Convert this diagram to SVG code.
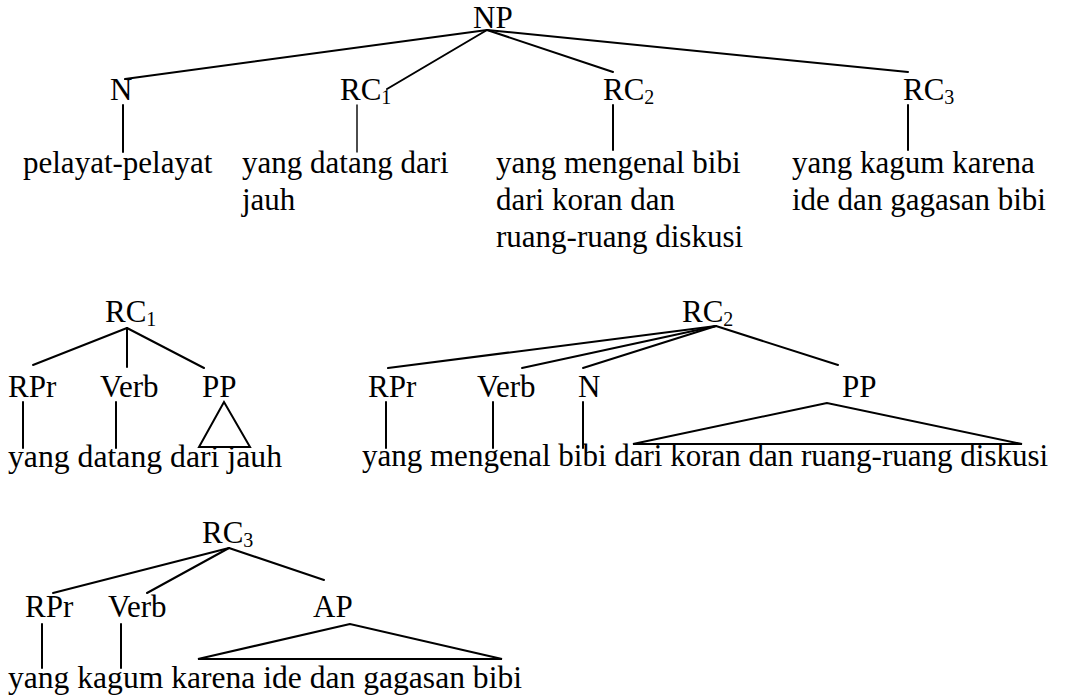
<svg xmlns="http://www.w3.org/2000/svg" width="1069" height="700" viewBox="0 0 1069 700">
<style>
text{font-family:"Liberation Serif","Times New Roman",serif;font-size:31px;fill:#000}
.sub{font-size:20px}
.e{stroke:#000;stroke-width:2;fill:none;stroke-linecap:round}
.t{stroke-width:1.4}
.tri{stroke:#000;stroke-width:2;fill:none;stroke-linejoin:miter}
</style>
<rect width="1069" height="700" fill="#fff"/>
<g id="connectors">
<!-- top tree -->
<line class="e" x1="487" y1="30" x2="125" y2="79"/>
<line class="e" x1="487" y1="30" x2="387" y2="89"/>
<line class="e" x1="487" y1="30" x2="613" y2="72"/>
<line class="e" x1="487" y1="30" x2="908" y2="72"/>
<line class="e" x1="123" y1="105" x2="123" y2="152"/>
<line class="e t" x1="357" y1="105" x2="357" y2="152"/>
<line class="e" x1="613" y1="105" x2="613" y2="150"/>
<line class="e" x1="908" y1="105" x2="908" y2="150"/>
<!-- RC1 tree -->
<line class="e" x1="127" y1="328" x2="33" y2="365"/>
<line class="e" x1="127" y1="328" x2="127" y2="367"/>
<line class="e" x1="127" y1="328" x2="204" y2="368"/>
<line class="e" x1="23" y1="402" x2="23" y2="448"/>
<line class="e" x1="116" y1="402" x2="116" y2="448"/>
<polygon class="tri" points="224,402 199,447 250,447"/>
<!-- RC2 tree -->
<line class="e" x1="716" y1="326" x2="388" y2="368"/>
<line class="e" x1="716" y1="326" x2="522" y2="368"/>
<line class="e" x1="716" y1="326" x2="583" y2="368"/>
<line class="e" x1="716" y1="326" x2="838" y2="365"/>
<line class="e" x1="386" y1="402" x2="386" y2="448"/>
<line class="e" x1="493" y1="402" x2="493" y2="448"/>
<line class="e" x1="583" y1="402" x2="583" y2="448"/>
<polygon class="tri" points="827,403 633,444 1022,444"/>
<!-- RC3 tree -->
<line class="e" x1="229" y1="548" x2="53" y2="593"/>
<line class="e" x1="229" y1="548" x2="147" y2="593"/>
<line class="e" x1="229" y1="548" x2="324" y2="580"/>
<line class="e" x1="42" y1="624" x2="42" y2="668"/>
<line class="e" x1="121" y1="624" x2="121" y2="668"/>
<polygon class="tri" points="350,624 198,659 502,659"/>
</g>
<g id="np"><text x="473" y="28">NP</text></g>
<g id="n-top"><text x="110" y="100">N</text></g>
<g id="rc1-top"><text x="340" y="100">RC<tspan class="sub" dy="4">1</tspan></text></g>
<g id="rc2-top"><text x="603" y="100">RC<tspan class="sub" dy="4">2</tspan></text></g>
<g id="rc3-top"><text x="903" y="100">RC<tspan class="sub" dy="4">3</tspan></text></g>
<g id="leaf-n"><text x="23" y="173">pelayat-pelayat</text></g>
<g id="leaf-rc1"><text x="242" y="173">yang datang dari</text><text x="242" y="210">jauh</text></g>
<g id="leaf-rc2"><text x="496" y="173">yang mengenal bibi</text><text x="496" y="210">dari koran dan</text><text x="496" y="247">ruang-ruang diskusi</text></g>
<g id="leaf-rc3"><text x="792" y="173">yang kagum karena</text><text x="792" y="210">ide dan gagasan bibi</text></g>

<g id="rc1"><text x="105" y="322">RC<tspan class="sub" dy="4">1</tspan></text></g>
<g id="rc1-rpr"><text x="8" y="397">RPr</text></g>
<g id="rc1-verb"><text x="100" y="397">Verb</text></g>
<g id="rc1-pp"><text x="202" y="397">PP</text></g>
<g id="rc1-leaf"><text x="8" y="467" textLength="274" lengthAdjust="spacingAndGlyphs">yang datang dari jauh</text></g>

<g id="rc2"><text x="682" y="322">RC<tspan class="sub" dy="4">2</tspan></text></g>
<g id="rc2-rpr"><text x="368" y="397">RPr</text></g>
<g id="rc2-verb"><text x="477" y="397">Verb</text></g>
<g id="rc2-n"><text x="578" y="397">N</text></g>
<g id="rc2-pp"><text x="842" y="397">PP</text></g>
<g id="rc2-leaf"><text x="362" y="466">yang mengenal bibi dari koran dan ruang-ruang diskusi</text></g>

<g id="rc3"><text x="202" y="543">RC<tspan class="sub" dy="4">3</tspan></text></g>
<g id="rc3-rpr"><text x="25" y="617">RPr</text></g>
<g id="rc3-verb"><text x="108" y="617">Verb</text></g>
<g id="rc3-ap"><text x="313" y="617">AP</text></g>
<g id="rc3-leaf"><text x="8" y="688" textLength="514" lengthAdjust="spacingAndGlyphs">yang kagum karena ide dan gagasan bibi</text></g>
</svg>
